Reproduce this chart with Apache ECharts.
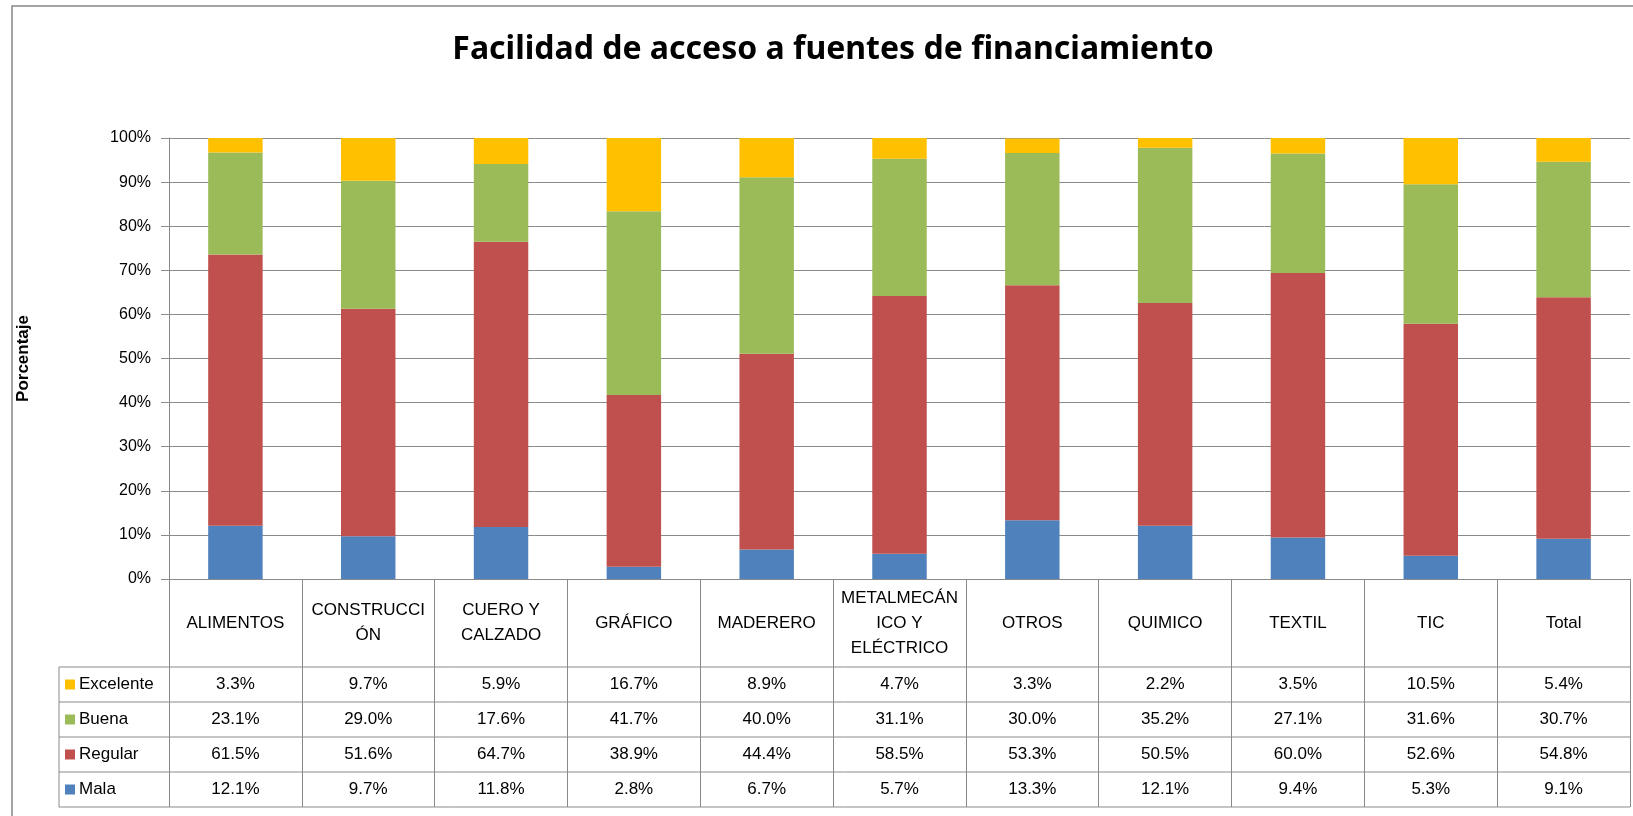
<!DOCTYPE html>
<html style="height: 100%;width:100%">
<head>
	<meta charset="UTF-8">
	<title>Facilidad de acceso a fuentes de financiamiento</title>
	<script src="https://cdn.jsdelivr.net/npm/echarts@6/dist/echarts.min.js"></script>
	<style type="text/css">
		body{ height:100%;width:100%; margin:0px; background-color:#FFFFFF; }
		#container{ width:1633px; height:816px; }
	</style>
</head>
<body>
<div id="container"></div>

<script type="text/javascript">

// categorias (con los cortes de linea del original)
var categories = ['ALIMENTOS', 'CONSTRUCCI\nÓN', 'CUERO Y\nCALZADO', 'GRÁFICO', 'MADERERO', 'METALMECÁN\nICO Y\nELÉCTRICO', 'OTROS', 'QUIMICO', 'TEXTIL', 'TIC', 'Total'];

var excelente = [3.3, 9.7, 5.9, 16.7, 8.9, 4.7, 3.3, 2.2, 3.5, 10.5, 5.4];
var buena     = [23.1, 29.0, 17.6, 41.7, 40.0, 31.1, 30.0, 35.2, 27.1, 31.6, 30.7];
var regular   = [61.5, 51.6, 64.7, 38.9, 44.4, 58.5, 53.3, 50.5, 60.0, 52.6, 54.8];
var mala      = [12.1, 9.7, 11.8, 2.8, 6.7, 5.7, 13.3, 12.1, 9.4, 5.3, 9.1];

var yTicks = [0, 10, 20, 30, 40, 50, 60, 70, 80, 90, 100];

// orden de apilado: de abajo hacia arriba
var seriesList = [
	{ name: 'Mala', data: mala, color: '#4F81BD' },
	{ name: 'Regular', data: regular, color: '#C0504D' },
	{ name: 'Buena', data: buena, color: '#9BBB59' },
	{ name: 'Excelente', data: excelente, color: '#FFC000' }
];

var FONT = '"Liberation Sans", "Noto Sans", sans-serif';
var lineColor = '#8a8a8a';

var gridLeft = 169, gridRight = 3, gridTop = 138, axisY = 579;
var headerBottom = 667, rowH = 35, tableLeft = 59;

var dom = document.getElementById("container");
var myChart = echarts.init(dom);

var option = {
	animation: false,
	textStyle: { fontFamily: FONT },
	grid: { left: gridLeft, right: gridRight, top: gridTop, bottom: 816 - axisY },
	xAxis: {
		type: 'category',
		data: categories,
		axisLine: { show: true, lineStyle: { color: lineColor, width: 1 } },
		axisTick: { show: true, interval: 0, length: (headerBottom + rowH * 4) - axisY, lineStyle: { color: lineColor } },
		axisLabel: {
			interval: 0,
			margin: (headerBottom - axisY) / 2,
			verticalAlign: 'middle',
			color: '#000',
			fontSize: 17,
			lineHeight: 25,
			fontFamily: FONT
		}
	},
	yAxis: {
		type: 'value',
		min: 0,
		max: 100,
		interval: 10,
		name: 'Porcentaje',
		nameLocation: 'middle',
		nameGap: 137,
		nameRotate: 90,
		nameTextStyle: { color: '#000', fontWeight: 'bold', fontSize: 17, fontFamily: FONT },
		axisLine: { show: true, lineStyle: { color: lineColor } },
		axisTick: { show: true, length: 8, lineStyle: { color: lineColor } },
		axisLabel: { margin: 18, color: '#000', fontSize: 16, formatter: function (v) { return yTicks.indexOf(v) >= 0 ? v + '%' : ''; } },
		splitLine: { lineStyle: { color: lineColor, width: 1 } }
	},
	series: []
};

for (var i = 0; i < seriesList.length; i++) {
	option.series.push({
		name: seriesList[i].name,
		type: 'bar',
		stack: 'total',
		barWidth: '41%',
		data: seriesList[i].data,
		itemStyle: { color: seriesList[i].color }
	});
}

myChart.setOption(option, true);

// tabla de datos debajo del grafico
var graphics = [];

graphics.push({
	type: 'rect', silent: true,
	shape: { x: 12, y: 6, width: 1700, height: 900 },
	style: { fill: null, stroke: '#868686', lineWidth: 1.5 }
});

graphics.push({
	type: 'text', silent: true,
	style: {
		text: 'Facilidad de acceso a fuentes de financiamiento',
		x: 833, y: 50, align: 'center', verticalAlign: 'middle',
		font: 'bold 32px "Noto Sans", sans-serif', fill: '#000'
	}
});

var tableRight = myChart.getWidth() - gridRight;
for (var r = 0; r <= 4; r++) {
	var yy = headerBottom + r * rowH;
	graphics.push({
		type: 'line', silent: true,
		shape: { x1: tableLeft, y1: yy, x2: tableRight, y2: yy },
		style: { stroke: lineColor, lineWidth: 1 }
	});
}
graphics.push({
	type: 'line', silent: true,
	shape: { x1: tableLeft, y1: headerBottom, x2: tableLeft, y2: headerBottom + rowH * 4 },
	style: { stroke: lineColor, lineWidth: 1 }
});

// filas: Excelente, Buena, Regular, Mala
for (var k = 0; k < seriesList.length; k++) {
	var s = seriesList[seriesList.length - 1 - k];
	var cy = headerBottom + rowH * k + rowH / 2;
	graphics.push({
		type: 'rect', silent: true,
		shape: { x: 65, y: cy - 5, width: 10, height: 10 },
		style: { fill: s.color }
	});
	graphics.push({
		type: 'text', silent: true,
		style: { text: s.name, x: 79, y: cy, align: 'left', verticalAlign: 'middle', font: '17px ' + FONT, fill: '#000' }
	});
	for (var c = 0; c < categories.length; c++) {
		var px = myChart.convertToPixel({ xAxisIndex: 0 }, c);
		graphics.push({
			type: 'text', silent: true,
			style: { text: s.data[c].toFixed(1) + '%', x: px, y: cy, align: 'center', verticalAlign: 'middle', font: '17px ' + FONT, fill: '#000' }
		});
	}
}

myChart.setOption({ graphic: graphics });

window.onresize = function() {
	myChart.resize();
};

</script>
</body>
</html>
